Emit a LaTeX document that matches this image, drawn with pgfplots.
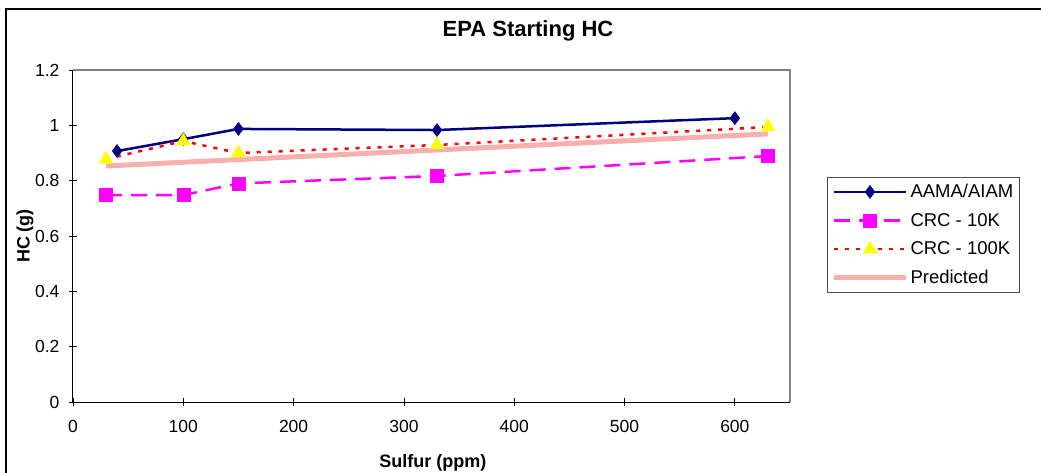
\documentclass[border=0pt]{standalone}
\usepackage{pgfplots}
\pgfplotsset{compat=1.18}
\usepackage{fontspec}
\setmainfont{Liberation Sans}
\definecolor{navyc}{RGB}{0,0,128}
\definecolor{magc}{RGB}{255,0,255}
\definecolor{yelc}{RGB}{255,255,0}
\definecolor{redc}{RGB}{255,0,0}
\definecolor{predc}{RGB}{250,175,175}
\begin{document}
\begin{tikzpicture}
\begin{axis}[
  at={(73pt,70pt)}, anchor=south west,
  scale only axis, width=717pt, height=332pt,
  xmin=0, xmax=650, ymin=0, ymax=1.2,
  xtick={0,100,...,600}, ytick={0,0.2,...,1.2},
  axis x line*=bottom, axis y line*=left,
  axis line style={black, line width=1pt},
  tick align=center, major tick length=8pt,
  tick style={black, line width=0.8pt},
  /pgf/number format/assume math mode=true,
  ticklabel style={font=\fontsize{17.5}{20}\selectfont},
  yticklabel style={/pgf/number format/fixed, xshift=-6pt},
  xticklabel style={yshift=-11pt},
  xlabel={\bfseries Sulfur (ppm)},
  ylabel={\bfseries HC (g)},
  label style={font=\fontsize{18}{21}\selectfont},
  xlabel style={at={(axis description cs:0.502,-0.184)}, anchor=center},
  ylabel style={at={(axis description cs:-0.067,0.5)}, anchor=center},
  title={\bfseries EPA Starting HC},
  title style={font=\fontsize{22}{26}\selectfont, at={(axis description cs:0.6346,1.099)}, anchor=center},
  legend style={at={(axis description cs:1.0516,0.6777)}, anchor=north west,
    font=\fontsize{18.5}{22}\selectfont, draw=black!70, line width=1pt,
    row sep=10pt, inner xsep=4pt, inner ysep=5pt},
  legend cell align=left,
  legend image code/.code={
    \draw[#1, mark repeat=2, mark phase=2] plot coordinates {(0pt,0pt) (36pt,0pt) (72pt,0pt)};
  },
  clip=false,
  after end axis/.code={
    \draw[black!50, line width=1.2pt] (rel axis cs:0,1) -- (rel axis cs:1,1) -- (rel axis cs:1,0);
  },
]
\addplot[navyc, line width=2.5pt, mark=diamond*, mark size=6.5pt, mark options={solid, fill=navyc, line width=0.5pt}]
  coordinates {(40,0.907) (100,0.950) (150,0.987) (330,0.983) (600,1.026)};
\addlegendentry{AAMA/AIAM}
\addplot[magc, line width=2.5pt, dash pattern=on 16pt off 9pt, mark=square*, mark size=6.5pt, mark options={solid, fill=magc, line width=0.5pt}]
  coordinates {(30,0.748) (100,0.748) (150,0.790) (330,0.817) (630,0.889)};
\addlegendentry{CRC - 10K}
\addplot[redc, line width=2.5pt, dash pattern=on 4pt off 7pt, mark=triangle*, mark size=8pt, mark options={solid, draw=yelc, fill=yelc, line width=0.5pt}]
  coordinates {(30,0.878) (100,0.943) (150,0.900) (330,0.929) (630,0.994)};
\addlegendentry{CRC - 100K}
\addplot[predc, line width=5pt, no marks]
  coordinates {(30,0.853) (630,0.969)};
\addlegendentry{Predicted}
\end{axis}
\draw[black, line width=2.5pt] (6pt,-10pt) -- (6pt,463pt) -- (1060pt,463pt);
\pgfresetboundingbox
\path[use as bounding box] (0,0) rectangle (1041pt,472pt);
\end{tikzpicture}
\end{document}
